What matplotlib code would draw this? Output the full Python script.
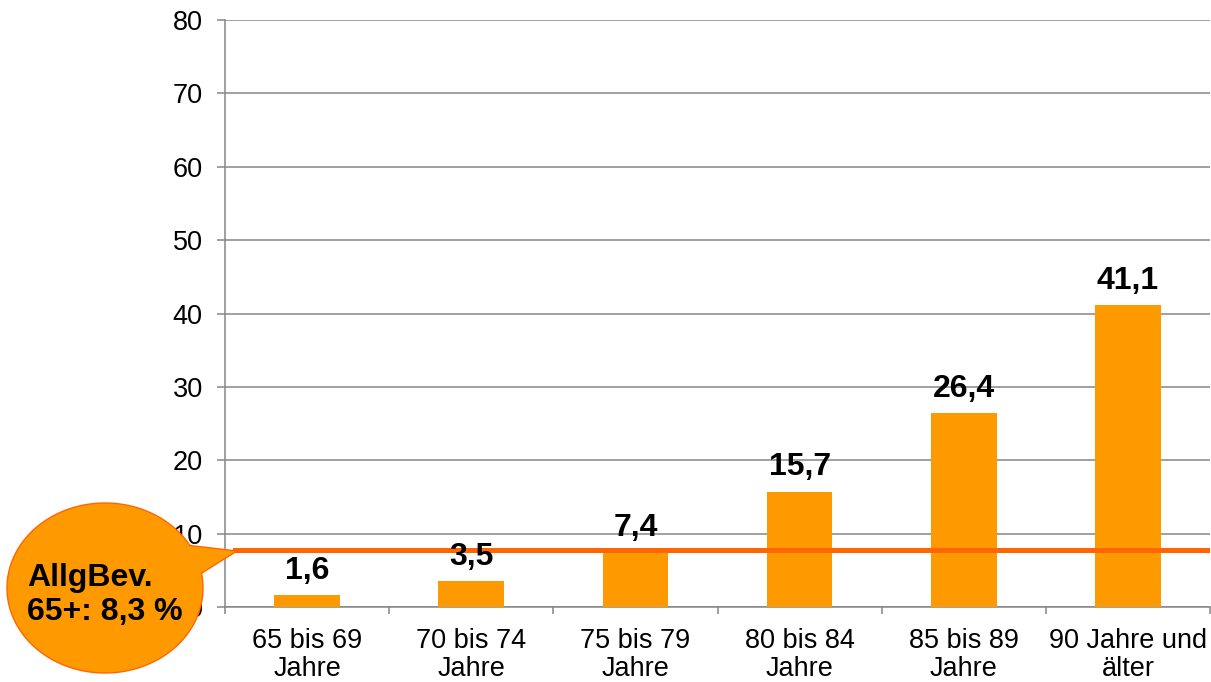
import numpy as np
import matplotlib.pyplot as plt
from matplotlib.path import Path
from matplotlib.patches import PathPatch

plt.rcParams['font.family'] = ['Liberation Sans', 'DejaVu Sans']

categories = ["65 bis 69\nJahre", "70 bis 74\nJahre", "75 bis 79\nJahre",
              "80 bis 84\nJahre", "85 bis 89\nJahre", "90 Jahre und\nälter"]
values = [1.6, 3.5, 7.4, 15.7, 26.4, 41.1]
value_labels = ["1,6", "3,5", "7,4", "15,7", "26,4", "41,1"]
yticks = [0, 10, 20, 30, 40, 50, 60, 70, 80]
ref_level = 7.8  # drawn position of the reference line
ref_text = "AllgBev.\n65+: 8,3 %"

W, H = 1211, 682
fig = plt.figure(figsize=(W / 100, H / 100), dpi=100)
ax = fig.add_axes([225 / W, 1 - 607 / H, (1210 - 225) / W, (607 - 20) / H])

grey = '#868686'
bar_col = '#FF9900'
line_col = '#FF6600'

x = np.arange(len(values))
ax.bar(x, values, width=0.4, color=bar_col, zorder=3)
for xi, v, lab in zip(x, values, value_labels):
    ax.annotate(lab, (xi, v), xytext=(0, 7), textcoords='offset points',
                ha='center', va='bottom', fontsize=23, fontweight='bold', zorder=5)

ax.set_xlim(-0.5, len(values) - 0.5)
ax.set_ylim(0, 80)
ax.set_yticks(yticks)
ax.yaxis.grid(True, color=grey, lw=1.1, zorder=0)
ax.set_axisbelow(True)
ax.set_xticks(x)
ax.set_xticklabels(categories, fontsize=19.5, linespacing=1.1)
ax.set_xticks(np.arange(-0.5, len(values)), minor=True)
ax.tick_params(axis='x', which='major', length=0, pad=15)
ax.tick_params(axis='x', which='minor', length=5, width=1.1, color=grey)
ax.tick_params(axis='y', length=6, width=1.1, color=grey, pad=10, labelsize=19.5)

for s in ['top', 'right']:
    ax.spines[s].set_visible(False)
for s in ['left', 'bottom']:
    ax.spines[s].set_color(grey)
    ax.spines[s].set_linewidth(1.1)

ax.axhline(ref_level, xmin=0.01, xmax=1, color=line_col, lw=3.6, zorder=4)

# speech bubble (pixel geometry, y up)
cx, cy, a, b = 105, H - 588, 98, 85
t1, t2 = np.deg2rad(10), np.deg2rad(30)
th = np.linspace(t2, t1 + 2 * np.pi, 200)
pts = [(cx + a * np.cos(t), cy + b * np.sin(t)) for t in th]
pts.append((237, H - 551))
pts.append(pts[0])
pts = np.array(pts) / [W, H]
codes = [Path.MOVETO] + [Path.LINETO] * (len(pts) - 2) + [Path.CLOSEPOLY]
bubble = PathPatch(Path(pts, codes), facecolor=bar_col, edgecolor=line_col,
                   lw=1.0, transform=fig.transFigure, zorder=10)
fig.add_artist(bubble)
fig.text(27 / W, 1 - 595 / H, ref_text, ha='left', va='center', fontsize=23,
         fontweight='bold', linespacing=1.15, zorder=11)

fig.savefig('out.png', dpi=100)
